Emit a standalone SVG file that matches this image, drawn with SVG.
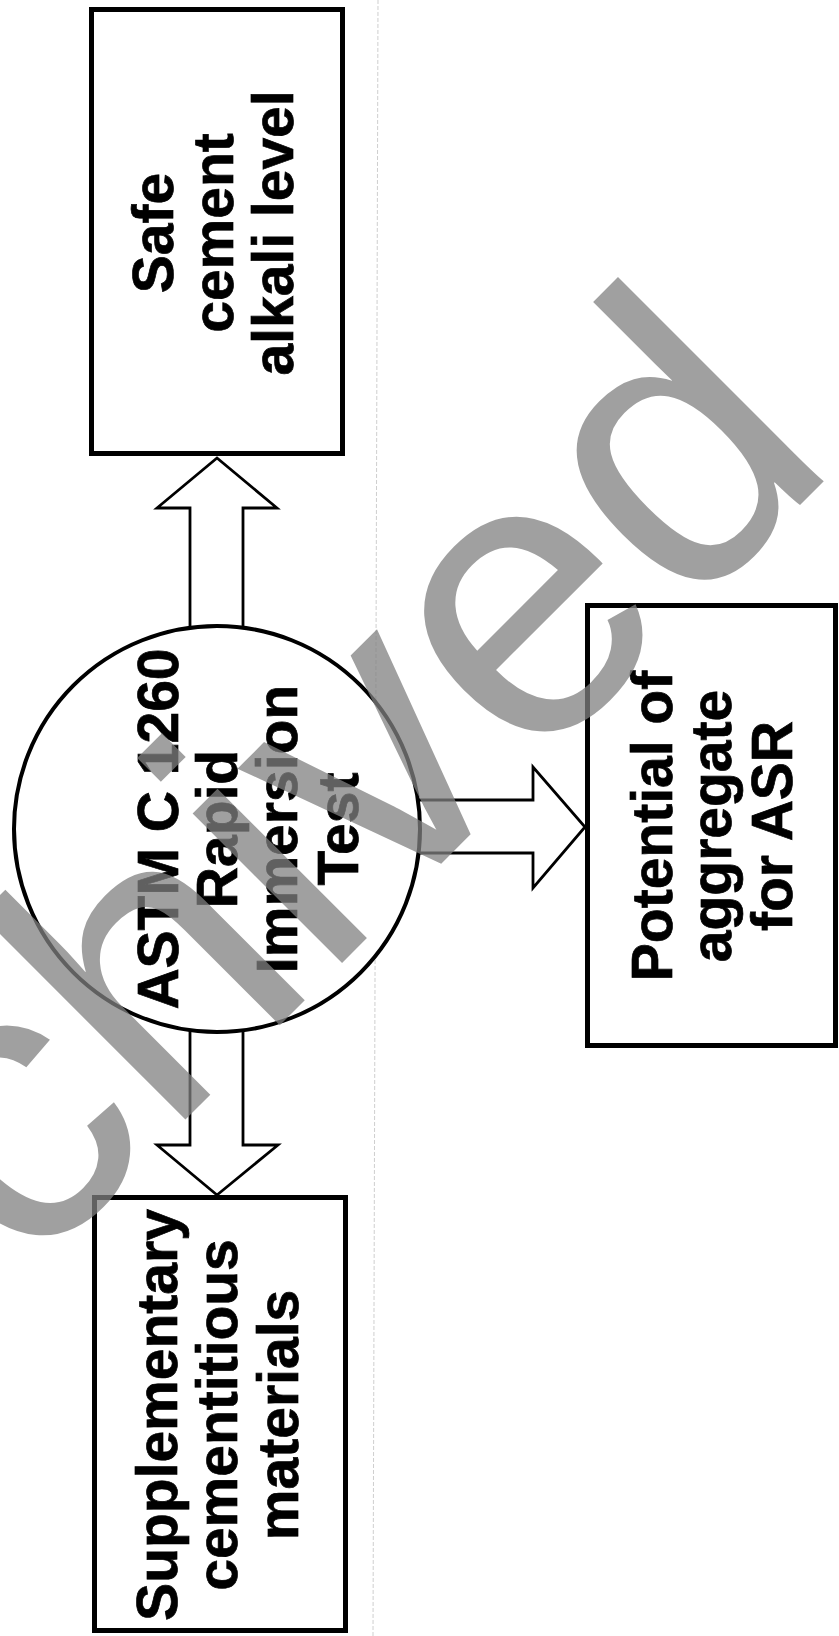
<svg xmlns="http://www.w3.org/2000/svg" width="839" height="1636" viewBox="0 0 839 1636">
<style>
.box{fill:#fff;stroke:#000;stroke-width:5}
.circ{fill:#fff;stroke:#000;stroke-width:4}
.arrow{fill:#fff;stroke:#000;stroke-width:2.8;stroke-linejoin:miter}
.lbl{font-family:"Liberation Sans",Arial,Helvetica,sans-serif;font-weight:bold;font-size:57px;fill:#000;stroke:#000;stroke-width:0.7;text-anchor:middle}
.wm{font-family:"Liberation Sans",Arial,Helvetica,sans-serif;font-size:400px;fill:#808080;fill-opacity:0.75;text-anchor:end}
</style>
<rect x="0" y="0" width="839" height="1636" fill="#fff"/>
<line x1="378" y1="0" x2="373" y2="1636" stroke="#cfcfcf" stroke-width="1" stroke-dasharray="4 2"/>
<g id="connectors">
<path class="arrow" d="M190,628 V508 H157 L217,458 L277,508 H243 V628"/>
<path class="arrow" d="M190,1030 V1145 H157 L217,1195 L278,1145 H243 V1030"/>
<path class="arrow" d="M417,800 H533 V767 L585,827 L533,888 V853 H417"/>
</g>
<g id="node-safe">
<rect class="box" x="91.5" y="9.5" width="251" height="444"/>
<g transform="translate(0,233) rotate(-90)">
<text class="lbl" x="0" y="173">Safe</text>
<text class="lbl" x="0" y="233">cement</text>
<text class="lbl" x="0" y="293">alkali level</text>
</g>
</g>
<g id="node-test">
<circle class="circ" cx="217" cy="829" r="203"/>
<g transform="translate(0,829) rotate(-90)">
<text class="lbl" x="0" y="178">ASTM C 1260</text>
<text class="lbl" x="0" y="237">Rapid</text>
<text class="lbl" x="0" y="297">Immersion</text>
<text class="lbl" x="0" y="358">Test</text>
</g>
</g>
<g id="node-potential">
<rect class="box" x="587.5" y="605.5" width="248" height="440"/>
<g transform="translate(0,826) rotate(-90)">
<text class="lbl" x="0" y="672">Potential of</text>
<text class="lbl" x="0" y="731">aggregate</text>
<text class="lbl" x="0" y="792">for ASR</text>
</g>
</g>
<g id="node-scm">
<rect class="box" x="94.5" y="1197.5" width="251" height="433"/>
<g transform="translate(0,1415) rotate(-90)">
<text class="lbl" x="0" y="177">Supplementary</text>
<text class="lbl" x="0" y="237">cementitious</text>
<text class="lbl" x="0" y="298">materials</text>
</g>
</g>
<g id="watermark" transform="translate(842,463) rotate(-45)">
<text class="wm" x="0" y="0">Archived</text>
</g>
</svg>
